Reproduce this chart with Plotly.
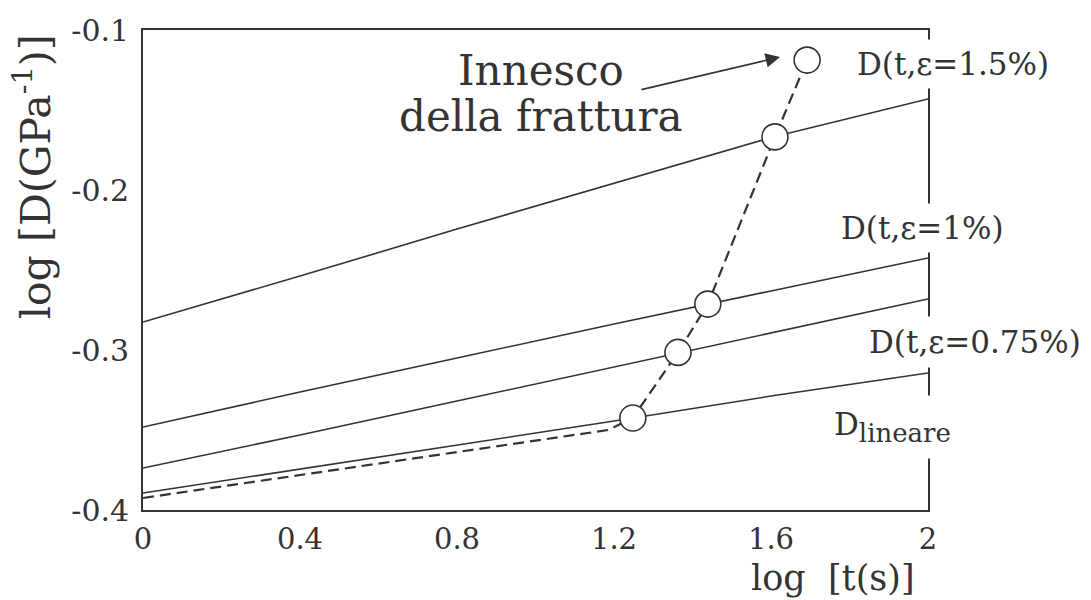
import plotly.graph_objects as go

# log t grid on which the compliance curves are tabulated
log_t = [0.0, 0.4, 0.8, 1.2, 1.6, 2.0]

# log D(t, eps) for each strain level [log GPa^-1]
d_eps_150 = [-0.2825, -0.2538, -0.2244, -0.1956, -0.1672, -0.1431]
d_eps_100 = [-0.3481, -0.3263, -0.3050, -0.2838, -0.2631, -0.2425]
d_eps_075 = [-0.3738, -0.3531, -0.3319, -0.3106, -0.2894, -0.2681]
d_lineare = [-0.3894, -0.3744, -0.3594, -0.3444, -0.3288, -0.3144]

# fracture-initiation locus: lower branch then the onset points
locus_x = [0.0, 0.4, 0.8, 1.185]
locus_y = [-0.3925, -0.3781, -0.3638, -0.3500]
onset_x = [1.248, 1.363, 1.439, 1.610, 1.692]
onset_y = [-0.3425, -0.3015, -0.2713, -0.1668, -0.1188]

x_ticks = [0, 0.4, 0.8, 1.2, 1.6, 2]
x_tick_text = ["0", "0.4", "0.8", "1.2", "1.6", "2"]
y_ticks = [-0.4, -0.3, -0.2, -0.1]
y_tick_text = ["-0.4", "-0.3", "-0.2", "-0.1"]

INK = "#333333"
SERIF = "DejaVu Serif"

fig = go.Figure()

for ys in (d_eps_150, d_eps_100, d_eps_075, d_lineare):
    fig.add_trace(go.Scatter(x=log_t, y=ys, mode="lines",
                             line=dict(color=INK, width=1.6),
                             showlegend=False, hoverinfo="skip"))

fig.add_trace(go.Scatter(x=locus_x + onset_x, y=locus_y + onset_y, mode="lines",
                         line=dict(color=INK, width=2.2, dash="11px,6px"),
                         showlegend=False, hoverinfo="skip"))

fig.add_trace(go.Scatter(x=onset_x, y=onset_y, mode="markers",
                         marker=dict(symbol="circle", size=26, color="white",
                                     line=dict(color=INK, width=1.6)),
                         showlegend=False, hoverinfo="skip"))

# curve labels sit beyond the right frame; white boxes break the frame line
curve_labels = [
    ("D(t,ε=1.5%)", 1.032, 0.929, 6),
    ("D(t,ε=1%)", 0.9925, 0.5873, 6),
    ("D(t,ε=0.75%)", 1.060, 0.350, 7),
    ("D<sub><span style='font-size:26px'>lineare</span></sub>", 0.955, 0.172, 10),
]
annotations = []
for text, xa, ya, pad in curve_labels:
    annotations.append(dict(x=xa, y=ya, xref="paper", yref="paper", text=text,
                            xanchor="center", yanchor="middle",
                            showarrow=False, bgcolor="white", borderpad=pad,
                            font=dict(family=SERIF, size=31, color=INK)))

annotations += [
    dict(x=1.014, y=-0.1250, xref="x", yref="y", text="Innesco",
         xanchor="center", yanchor="middle",
         showarrow=False, font=dict(family=SERIF, size=42, color=INK)),
    dict(x=1.014, y=-0.1540, xref="x", yref="y", text="della frattura",
         xanchor="center", yanchor="middle",
         showarrow=False, font=dict(family=SERIF, size=42, color=INK)),
    dict(x=1.623, y=-0.1169, xref="x", yref="y", ax=1.266, ay=-0.1375,
         axref="x", ayref="y", text="", showarrow=True, arrowhead=2,
         arrowsize=1.8, arrowwidth=1.6, arrowcolor=INK),
    dict(x=0.879, y=-0.1417, xref="paper", yref="paper", text="log  [t(s)]",
         xanchor="center", yanchor="middle",
         showarrow=False, font=dict(family=SERIF, size=35, color=INK)),
    dict(x=-0.141, y=0.694, xref="paper", yref="paper",
         text="log [D(GPa<sup>-1</sup>)]", textangle=-90, showarrow=False,
         xanchor="center", yanchor="middle",
         font=dict(family=SERIF, size=41, color=INK)),
]

axis_common = dict(showline=True, mirror=True, linecolor=INK, linewidth=1.6,
                   showgrid=False, zeroline=False, ticks="outside",
                   tickcolor="rgba(0,0,0,0)")

fig.update_layout(
    width=1091, height=600,
    margin=dict(l=143, r=163, t=30, b=90),
    paper_bgcolor="white", plot_bgcolor="white",
    xaxis=dict(range=[0, 2], tickvals=x_ticks, ticktext=x_tick_text,
               ticklen=2, tickfont=dict(family=SERIF, size=29, color=INK),
               **axis_common),
    yaxis=dict(range=[-0.4, -0.1], tickvals=y_ticks, ticktext=y_tick_text,
               ticklen=6, tickfont=dict(family=SERIF, size=30, color=INK),
               **axis_common),
    annotations=annotations,
)

fig.write_html("out.html")
